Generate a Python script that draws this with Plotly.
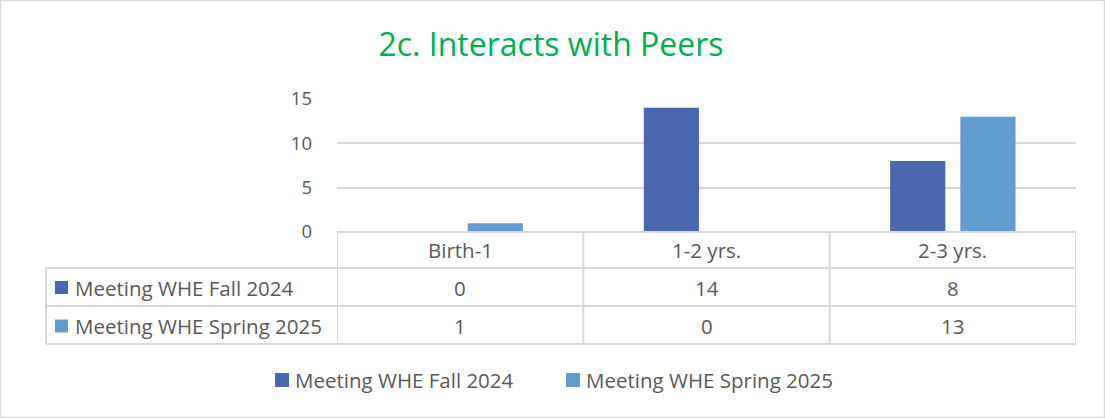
import plotly.graph_objects as go

categories = ["Birth-1", "1-2 yrs.", "2-3 yrs."]
series_names = ["Meeting WHE Fall 2024", "Meeting WHE Spring 2025"]
fall_2024 = [0, 14, 8]
spring_2025 = [1, 0, 13]
colors = ["#4A66AC", "#629DD1"]
y_ticks = [0, 5, 10, 15]
title_text = "2c. Interacts with Peers"

W, H = 1105, 418
L, R, T, B = 337, 29, 99, 186
PW, PH = W - L - R, H - T - B


def px_x(px):
    return (px - L) / PW


def px_y(py):
    return (H - B - py) / PH


fig = go.Figure()
for name, vals, col in zip(series_names, [fall_2024, spring_2025], colors):
    fig.add_trace(go.Bar(x=categories, y=vals, name=name, marker_color=col,
                         marker_line_width=0, showlegend=False))

grid = "#D9D9D9"
font_col = "#595959"
fam = "Open Sans, Calibri, sans-serif"
shapes = []
annotations = []

# table horizontal lines
row_y = [232, 268, 306, 344]
for i, yy in enumerate(row_y):
    x0 = px_x(337) if i == 0 else px_x(46)
    shapes.append(dict(type="line", xref="paper", yref="paper", x0=x0, x1=1,
                       y0=px_y(yy), y1=px_y(yy), line=dict(color=grid, width=2)))
# vertical lines at category boundaries
for b in [-0.5, 0.5, 1.5, 2.5]:
    shapes.append(dict(type="line", xref="x", yref="paper", x0=b, x1=b,
                       y0=px_y(232), y1=px_y(344), line=dict(color=grid, width=2)))
shapes.append(dict(type="line", xref="paper", yref="paper", x0=px_x(46), x1=px_x(46),
                   y0=px_y(268), y1=px_y(344), line=dict(color=grid, width=2)))
# outer border
shapes.append(dict(type="rect", xref="paper", yref="paper", x0=px_x(0.5), x1=px_x(W - 0.5),
                   y0=px_y(H - 0.5), y1=px_y(0.5), line=dict(color=grid, width=1.5)))

tfont = dict(family=fam, size=20.5, color=font_col)
# header row
for c in categories:
    annotations.append(dict(x=c, xref="x", y=px_y(250), yref="paper", text=c,
                            showarrow=False, font=tfont, xanchor="center", yanchor="middle"))
# data rows
for r, (name, vals, col) in enumerate(zip(series_names, [fall_2024, spring_2025], colors)):
    yc = [287.5, 326][r]
    yy = px_y(yc)
    for c, v in zip(categories, vals):
        annotations.append(dict(x=c, xref="x", y=yy, yref="paper", text=str(v),
                                showarrow=False, font=tfont, xanchor="center", yanchor="middle"))
    shapes.append(dict(type="rect", xref="paper", yref="paper", x0=px_x(55), x1=px_x(68),
                       y0=px_y(yc + 6.5), y1=px_y(yc - 6.5), fillcolor=col, line=dict(width=0)))
    annotations.append(dict(x=px_x(73), xref="paper", y=yy, yref="paper", text=name,
                            showarrow=False, font=tfont, xanchor="left", yanchor="middle"))

# legend (drawn manually to match spacing)
leg_x = [275, 566]
for name, col, lx in zip(series_names, colors, leg_x):
    shapes.append(dict(type="rect", xref="paper", yref="paper", x0=px_x(lx), x1=px_x(lx + 14),
                       y0=px_y(387), y1=px_y(373), fillcolor=col, line=dict(width=0)))
    annotations.append(dict(x=px_x(lx + 18), xref="paper", y=px_y(380), yref="paper", text=name,
                            showarrow=False, font=tfont, xanchor="left", yanchor="middle"))

fig.update_layout(
    width=W, height=H,
    margin=dict(l=L, r=R, t=T, b=B, pad=0),
    paper_bgcolor="white", plot_bgcolor="white",
    title=dict(text=title_text, xref="container", yref="container", x=551 / W, xanchor="center",
               y=1 - 45 / H, yanchor="middle",
               font=dict(family=fam, size=32, color="#00B050")),
    barmode="group", bargap=0.43, bargroupgap=0.214,
    xaxis=dict(range=[-0.5, 2.5], showticklabels=False, showgrid=False, zeroline=False,
               showline=False, ticks=""),
    yaxis=dict(range=[0, 15], tickvals=y_ticks, showgrid=True, gridcolor=grid, gridwidth=1.5,
               zeroline=False, showline=False, ticks="", ticklabelstandoff=24,
               tickfont=dict(family=fam, size=18.5, color=font_col)),
    shapes=shapes, annotations=annotations,
    showlegend=False,
)

fig.write_html("out.html", config={"displayModeBar": False},
               post_script="document.body.style.margin='0';")
